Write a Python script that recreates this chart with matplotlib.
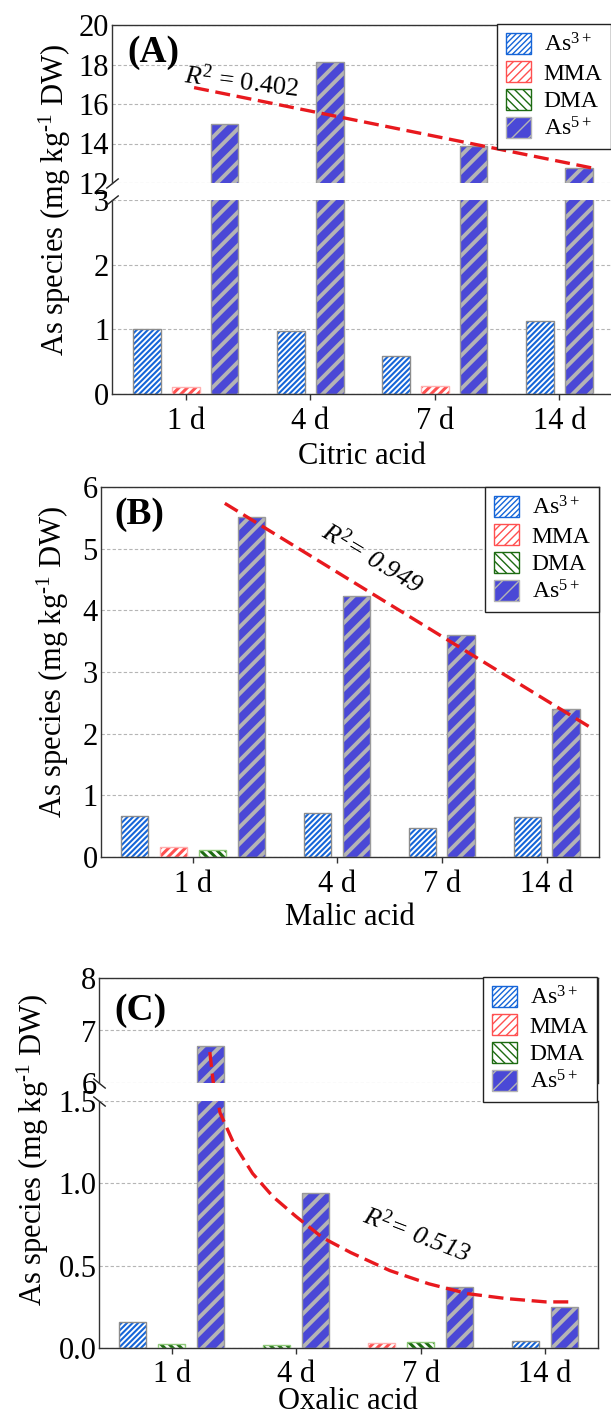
import numpy as np
import matplotlib
matplotlib.use('Agg')
import matplotlib.pyplot as plt
from matplotlib.patches import Patch

plt.rcParams['font.family'] = ['Liberation Serif', 'DejaVu Serif']
plt.rcParams['mathtext.fontset'] = 'custom'
plt.rcParams['mathtext.rm'] = 'Liberation Serif'
plt.rcParams['mathtext.it'] = 'Liberation Serif:italic'
plt.rcParams['mathtext.bf'] = 'Liberation Serif:bold'

# ---- data ----
days = ['1 d', '4 d', '7 d', '14 d']
species = ['As$^{3+}$', 'MMA', 'DMA', 'As$^{5+}$']

citric_as3 = [1.00, 0.97, 0.59, 1.13]
citric_mma = [0.11, 0, 0.12, 0]
citric_dma = [0, 0, 0, 0]
citric_as5 = [14.99, 18.11, 13.87, 12.74]

malic_as3 = [0.67, 0.72, 0.465, 0.643]
malic_mma = [0.162, 0, 0, 0]
malic_dma = [0.113, 0, 0, 0]
malic_as5 = [5.51, 4.235, 3.60, 2.40]

oxalic_as3 = [0.159, 0, 0, 0.042]
oxalic_mma = [0, 0, 0.032, 0]
oxalic_dma = [0.022, 0.018, 0.034, 0]
oxalic_as5 = [6.70, 0.944, 0.368, 0.25]

# trend lines (x in bar-slot units, y in mg/kg)
citric_trend_x = [1.21, 11.49]
citric_trend_y = [16.83, 12.74]
malic_trend_x = [2.32, 11.81]
malic_trend_y = [5.735, 2.07]
oxalic_trend_x = [1.98, 2.07, 2.19, 2.24, 2.60, 3.08, 3.60, 4.19, 4.88, 5.60,
                  6.61, 7.61, 8.61, 9.61, 10.62, 11.21]
oxalic_trend_y = [6.59, 6.00, 1.50, 1.43, 1.24, 1.06, 0.92, 0.80, 0.67, 0.58,
                  0.47, 0.39, 0.33, 0.30, 0.28, 0.28]

r2_text = ['$R^2$ = 0.402', '$R^2$= 0.949', '$R^2$= 0.513']

# ---- styles ----
styles = [
    dict(face='white', hatch='//////', hcol='#1565d8', edge='#8c8c8c', hlw=1.5),
    dict(face='white', hatch='////', hcol='#ff5050', edge='#ffb0b0', hlw=2.2),
    dict(face='white', hatch='\\\\\\\\', hcol='#1d6b12', edge='#8fc97a', hlw=2.2),
    dict(face='#4a48d6', hatch='//', hcol='#b4b4b4', edge='#9a9a9a', hlw=2.8),
]
red = '#e8191e'
W, H = 611, 1416


def box(l, r, t, b):
    return [l / W, 1 - b / H, (r - l) / W, (b - t) / H]


def layout(vals):
    xs = [[] for _ in vals]
    hs = [[] for _ in vals]
    ticks = []
    x = 0.0
    for g in range(len(days)):
        start = x
        for s, v in enumerate(vals):
            if v[g] > 0:
                xs[s].append(x)
                hs[s].append(v[g])
                x += 1
        ticks.append((start + x - 1) / 2)
        x += 0.7
    return xs, hs, ticks, x - 1.7


def draw_bars(ax, xs, hs):
    for s, st in enumerate(styles):
        if not xs[s]:
            continue
        with plt.rc_context({'hatch.linewidth': st['hlw']}):
            bars = ax.bar(xs[s], hs[s], width=0.7, color=st['face'], edgecolor=st['hcol'],
                          linewidth=0, hatch=st['hatch'], zorder=2)
        for b in bars:
            if hasattr(b, 'set_hatch_linewidth'):
                b.set_hatch_linewidth(st['hlw'])
        ax.bar(xs[s], hs[s], width=0.7, fill=False, edgecolor=st['edge'], linewidth=1.0, zorder=3)


def style_ax(ax, xlim, ylim, yticks, fmt):
    ax.set_xlim(*xlim)
    ax.set_ylim(*ylim)
    ax.set_yticks(yticks)
    ax.set_yticklabels([fmt.format(v) for v in yticks])
    ax.set_axisbelow(True)
    ax.yaxis.grid(True, linestyle=(0, (3, 2)), color='#b5b5b5', linewidth=0.8)
    ax.tick_params(axis='y', length=0, pad=2, labelsize=22)
    ax.tick_params(axis='x', length=4, width=1, color='#333333', pad=5, labelsize=22)
    for sp in ax.spines.values():
        sp.set_color('#333333')
        sp.set_linewidth(1.0)


def break_marks(ax, where, slope):
    y = 0 if where == 'bottom' else 1
    ax.plot([0], [y], transform=ax.transAxes, marker=[(-1, -slope), (1, slope)],
            markersize=9, linestyle='none', color='#222222', mec='#222222', mew=1, clip_on=False)


def add_legend(fig, x, y):
    handles = []
    for st in styles:
        with plt.rc_context({'hatch.linewidth': st['hlw']}):
            p = Patch(facecolor=st['face'], edgecolor=st['hcol'], hatch=st['hatch'], linewidth=1)
        handles.append(p)
    leg = fig.legend(handles, species, loc='upper left', bbox_to_anchor=(x / W, 1 - y / H),
                     bbox_transform=fig.transFigure, fontsize=17, frameon=True, fancybox=False,
                     framealpha=1, edgecolor='#222222', borderpad=0.38, labelspacing=0.18,
                     handlelength=1.05, handleheight=1.0, handletextpad=0.55, borderaxespad=0)
    leg.get_frame().set_linewidth(1.0)


fig = plt.figure(figsize=(W / 100, H / 100), dpi=100)
ylab = 'As species (mg kg$^{\u20101}$ DW)'

# ---- (A) citric acid ----
xs, hs, ticks, last = layout([citric_as3, citric_mma, citric_dma, citric_as5])
xlim = (-0.9, last + 0.85)
axt = fig.add_axes(box(112, 612, 25, 183))
axb = fig.add_axes(box(112, 612, 200, 394))
for ax in (axt, axb):
    draw_bars(ax, xs, hs)
style_ax(axt, xlim, (12, 20), [12, 14, 16, 18, 20], '{:d}')
style_ax(axb, xlim, (0, 3), [0, 1, 2, 3], '{:d}')
axt.spines['bottom'].set_visible(False)
axt.tick_params(axis='x', bottom=False, labelbottom=False)
axb.spines['top'].set_visible(False)
axb.set_xticks(ticks)
axb.set_xticklabels(days)
axt.plot(citric_trend_x, citric_trend_y, color=red, lw=2.4, dashes=(4.5, 2), zorder=4)
break_marks(axt, 'bottom', 0.8)
break_marks(axb, 'top', 0.8)
add_legend(fig, 497, 24)
fig.text(153 / W, 1 - 52 / H, '(A)', fontsize=27, fontweight='bold', ha='center', va='center')
fig.text(242 / W, 1 - 82 / H, r2_text[0], fontsize=19, rotation=-7, ha='center', va='center')
fig.text(55 / W, 1 - 200 / H, ylab, fontsize=22, rotation=90, ha='center', va='center')
fig.text(362 / W, 1 - 464 / H, 'Citric acid', fontsize=22, ha='center', va='baseline')

# ---- (B) malic acid ----
xs, hs, ticks, last = layout([malic_as3, malic_mma, malic_dma, malic_as5])
xlim = (-0.88, last + 0.85)
ax = fig.add_axes(box(100.5, 599, 487, 857))
draw_bars(ax, xs, hs)
style_ax(ax, xlim, (0, 6), [0, 1, 2, 3, 4, 5, 6], '{:d}')
ax.set_xticks(ticks)
ax.set_xticklabels(days)
ax.plot(malic_trend_x, malic_trend_y, color=red, lw=2.4, dashes=(4.5, 2), zorder=4)
add_legend(fig, 485, 487)
fig.text(139 / W, 1 - 515 / H, '(B)', fontsize=27, fontweight='bold', ha='center', va='center')
fig.text(372 / W, 1 - 558 / H, r2_text[1], fontsize=19, rotation=-31, ha='center', va='center',
         style='italic')
fig.text(53 / W, 1 - 662 / H, ylab, fontsize=22, rotation=90, ha='center', va='center')
fig.text(350 / W, 1 - 925 / H, 'Malic acid', fontsize=22, ha='center', va='baseline')

# ---- (C) oxalic acid ----
xs, hs, ticks, last = layout([oxalic_as3, oxalic_mma, oxalic_dma, oxalic_as5])
xlim = (-0.86, last + 0.85)
axt = fig.add_axes(box(99.4, 597.5, 978, 1083))
axb = fig.add_axes(box(99.4, 597.5, 1101, 1348))
for ax in (axt, axb):
    draw_bars(ax, xs, hs)
    ax.plot(oxalic_trend_x, oxalic_trend_y, color=red, lw=2.4, dashes=(4.5, 2), zorder=4)
style_ax(axt, xlim, (6, 8), [6, 7, 8], '{:d}')
style_ax(axb, xlim, (0, 1.5), [0, 0.5, 1.0, 1.5], '{:.1f}')
axt.spines['bottom'].set_visible(False)
axt.tick_params(axis='x', bottom=False, labelbottom=False)
axb.spines['top'].set_visible(False)
axb.set_xticks(ticks)
axb.set_xticklabels(days)
break_marks(axt, 'bottom', -0.8)
break_marks(axb, 'top', -0.8)
add_legend(fig, 483, 977)
fig.text(140 / W, 1 - 1011 / H, '(C)', fontsize=27, fontweight='bold', ha='center', va='center')
fig.text(417 / W, 1 - 1235 / H, r2_text[2], fontsize=19, rotation=-21, ha='center', va='center',
         style='italic')
fig.text(33 / W, 1 - 1150 / H, ylab, fontsize=22, rotation=90, ha='center', va='center')
fig.text(348 / W, 1 - 1409 / H, 'Oxalic acid', fontsize=22, ha='center', va='baseline')

fig.savefig('out.png', dpi=100)
